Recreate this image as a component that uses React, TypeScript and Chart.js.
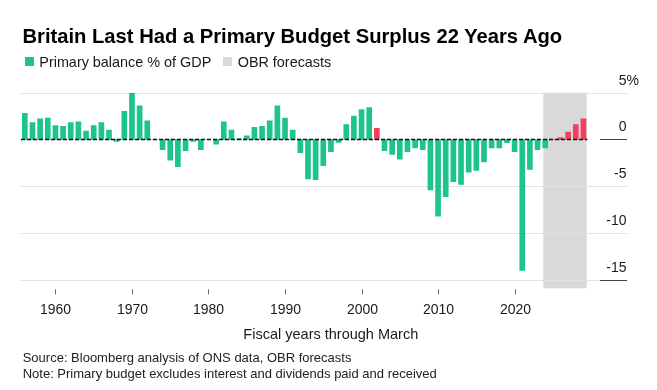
import React, { useEffect, useRef } from "react";
import { Chart, registerables } from "chart.js";

Chart.register(...registerables);

// Fiscal years (through March)
const years: number[] = [
  1956, 1957, 1958, 1959, 1960, 1961, 1962, 1963, 1964, 1965,
  1966, 1967, 1968, 1969, 1970, 1971, 1972, 1973, 1974, 1975,
  1976, 1977, 1978, 1979, 1980, 1981, 1982, 1983, 1984, 1985,
  1986, 1987, 1988, 1989, 1990, 1991, 1992, 1993, 1994, 1995,
  1996, 1997, 1998, 1999, 2000, 2001, 2002, 2003, 2004, 2005,
  2006, 2007, 2008, 2009, 2010, 2011, 2012, 2013, 2014, 2015,
  2016, 2017, 2018, 2019, 2020, 2021, 2022, 2023, 2024, 2025,
  2026, 2027, 2028, 2029,
];

// Primary balance, % of GDP
const primaryBalance: number[] = [
  2.8, 1.8, 2.2, 2.3, 1.5, 1.4, 1.8, 1.9, 0.9, 1.5,
  1.8, 1.0, -0.2, 3.0, 5.0, 3.6, 2.0, 0.0, -1.1, -2.2,
  -2.9, -1.2, -0.2, -1.1, 0.0, -0.5, 1.9, 1.0, 0.1, 0.4,
  1.3, 1.4, 2.0, 3.6, 2.3, 1.0, -1.4, -4.2, -4.3, -2.8,
  -1.3, -0.3, 1.6, 2.5, 3.2, 3.4, 1.2, -1.2, -1.6, -2.1,
  -1.3, -0.9, -1.1, -5.4, -8.2, -6.1, -4.5, -4.8, -3.5, -3.3,
  -2.4, -0.9, -0.9, -0.35, -1.3, -14.0, -3.2, -1.1, -0.9, 0.0,
  0.2, 0.8, 1.6, 2.2,
];

// Years drawn in red (last surplus and forecast surpluses)
const highlightYears: number[] = [2002, 2026, 2027, 2028, 2029];

// OBR forecast window
const forecastStart = 2024;
const forecastEnd = 2029;

// Axis ticks
const yTickValues: number[] = [5, 0, -5, -10, -15];
const yTickLabels: string[] = ["5", "0", "-5", "-10", "-15"];
const xTickYears: number[] = [1960, 1970, 1980, 1990, 2000, 2010, 2020];

const GREEN = "#1dc48b";
const RED = "#f23f5c";
const SHADE = "#d9d9d9";
const GRID = "#e2e2e2";
const FONT = '"Liberation Sans", Arial, Helvetica, sans-serif';

const GRID_RIGHT = 627;
const LABEL_RIGHT = 626.5;

const decorPlugin = {
  id: "decor",
  beforeDatasetsDraw(chart: any) {
    const { ctx, chartArea, scales } = chart;
    const x = scales.x;
    const y = scales.y;
    const i0 = years.indexOf(forecastStart);
    const i1 = years.indexOf(forecastEnd);
    const x0 = x.getPixelForValue(i0 - 0.25);
    const x1 = x.getPixelForValue(i1 + 0.42);
    ctx.save();
    ctx.fillStyle = SHADE;
    ctx.fillRect(x0, chartArea.top, x1 - x0, chartArea.bottom - chartArea.top);
    ctx.strokeStyle = GRID;
    ctx.lineWidth = 1;
    yTickValues.forEach((v) => {
      if (v === 0) return;
      const py = Math.round(y.getPixelForValue(v)) + 0.5;
      ctx.beginPath();
      ctx.moveTo(chartArea.left, py);
      ctx.lineTo(GRID_RIGHT, py);
      ctx.stroke();
    });
    ctx.restore();
  },
  afterDatasetsDraw(chart: any) {
    const { ctx, chartArea, scales } = chart;
    const x = scales.x;
    const y = scales.y;
    ctx.save();
    // dashed zero line across plot
    const zy = y.getPixelForValue(0);
    ctx.strokeStyle = "#111";
    ctx.lineWidth = 1.6;
    ctx.setLineDash([4, 2]);
    ctx.beginPath();
    ctx.moveTo(chartArea.left, zy);
    ctx.lineTo(chartArea.right, zy);
    ctx.stroke();
    ctx.setLineDash([]);
    // short solid baselines under labels
    ctx.strokeStyle = "#444";
    ctx.lineWidth = 1;
    [0, -15].forEach((v) => {
      const py = Math.round(y.getPixelForValue(v)) + 0.5;
      ctx.beginPath();
      ctx.moveTo(600, py);
      ctx.lineTo(GRID_RIGHT, py);
      ctx.stroke();
    });
    // y labels
    ctx.fillStyle = "#1a1a1a";
    ctx.font = `14px ${FONT}`;
    ctx.textBaseline = "alphabetic";
    yTickValues.forEach((v, i) => {
      const py = y.getPixelForValue(v) - 8;
      ctx.textAlign = "right";
      ctx.fillText(yTickLabels[i], LABEL_RIGHT, py);
      if (i === 0) {
        ctx.textAlign = "left";
        ctx.fillText("%", LABEL_RIGHT, py);
      }
    });
    // x ticks and labels
    ctx.strokeStyle = "#666";
    ctx.textAlign = "center";
    xTickYears.forEach((yr) => {
      const px = Math.round(x.getPixelForValue(years.indexOf(yr))) + 0.5;
      ctx.beginPath();
      ctx.moveTo(px, chartArea.bottom + 1);
      ctx.lineTo(px, chartArea.bottom + 6);
      ctx.stroke();
      ctx.fillText(String(yr), px, chartArea.bottom + 26);
    });
    ctx.restore();
  },
};

export default function App() {
  const ref = useRef<HTMLCanvasElement | null>(null);

  useEffect(() => {
    if (!ref.current) return;
    const chart = new Chart(ref.current, {
      type: "bar",
      data: {
        labels: years.map(String),
        datasets: [
          {
            data: primaryBalance,
            backgroundColor: years.map((yr) => (highlightYears.includes(yr) ? RED : GREEN)),
            barThickness: 5,
            borderWidth: 0,
          },
        ],
      },
      options: {
        animation: false,
        responsive: false,
        maintainAspectRatio: false,
        events: [],
        layout: { padding: { left: 21, right: 69.7, top: 92.7, bottom: 101.7 } },
        plugins: { legend: { display: false }, tooltip: { enabled: false } },
        scales: {
          x: { display: false },
          y: { display: false, min: -15.9, max: 5 },
        },
      },
      plugins: [decorPlugin],
    } as any);
    return () => chart.destroy();
  }, []);

  const text: React.CSSProperties = {
    position: "absolute",
    whiteSpace: "nowrap",
    lineHeight: 1,
    fontFamily: FONT,
    color: "#1a1a1a",
    margin: 0,
  };

  return (
    <div
      style={{
        position: "fixed",
        left: 0,
        top: 0,
        width: 657,
        height: 390,
        background: "#fff",
        overflow: "hidden",
      }}
    >
      <canvas
        ref={ref}
        width={657}
        height={390}
        style={{ position: "absolute", left: 0, top: 0, width: 657, height: 390 }}
      />
      <div style={{ ...text, left: 22.5, top: 26.1, fontSize: 20.2, fontWeight: 700, color: "#000" }}>
        Britain Last Had a Primary Budget Surplus 22 Years Ago
      </div>
      <div style={{ position: "absolute", left: 25, top: 57.2, width: 9, height: 9, background: GREEN }} />
      <div style={{ ...text, left: 39.3, top: 54.6, fontSize: 14.4 }}>Primary balance % of GDP</div>
      <div style={{ position: "absolute", left: 223, top: 57.2, width: 9, height: 9, background: SHADE }} />
      <div style={{ ...text, left: 237.7, top: 54.6, fontSize: 14.4 }}>OBR forecasts</div>
      <div style={{ ...text, left: 330.8, top: 327.2, fontSize: 14.5, transform: "translateX(-50%)" }}>
        Fiscal years through March
      </div>
      <div style={{ ...text, left: 22.7, top: 351, fontSize: 13, color: "#222" }}>
        Source: Bloomberg analysis of ONS data, OBR forecasts
      </div>
      <div style={{ ...text, left: 22.7, top: 367, fontSize: 13, color: "#222" }}>
        Note: Primary budget excludes interest and dividends paid and received
      </div>
    </div>
  );
}
